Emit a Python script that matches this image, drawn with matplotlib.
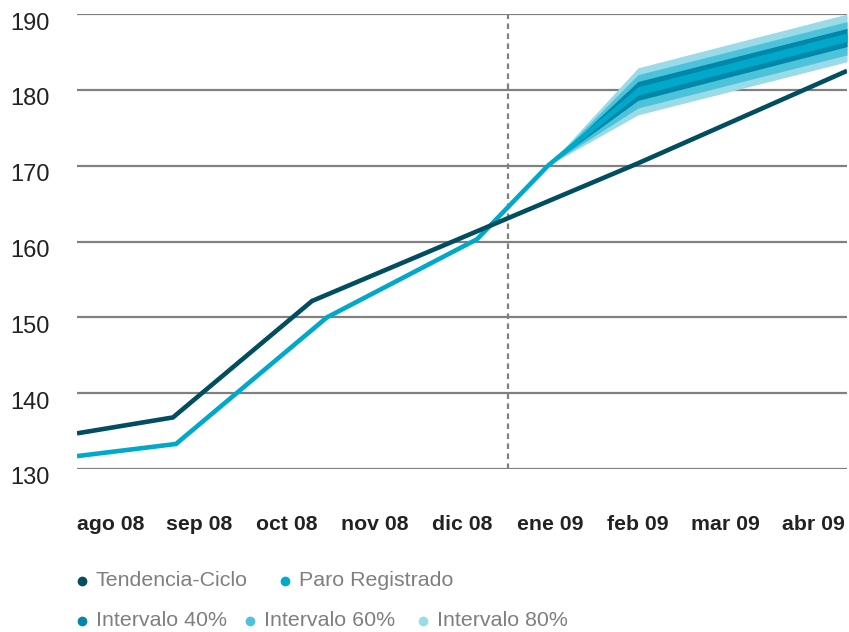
import matplotlib
matplotlib.use("Agg")
import matplotlib.pyplot as plt
from matplotlib.lines import Line2D
import matplotlib.transforms as mtransforms

# ---- data ----
months = ["ago 08", "sep 08", "oct 08", "nov 08", "dic 08", "ene 09", "feb 09", "mar 09", "abr 09"]
month_pos = [0, 1, 2, 3, 4, 5, 6, 7, 8]

tend_x = [-0.387, 0.706, 2.289, 4.977, 6.0, 8.383]
tend_y = [134.7, 136.8, 152.15, 165.3, 170.3, 182.5]

paro_x = [-0.387, 0.740, 2.460, 4.169, 4.977, 6.002, 8.383]
paro_y = [131.7, 133.3, 150.0, 160.3, 170.0, 179.8, 186.9]

band_x = [4.977, 6.002, 8.383]
i80_lo = [170.0, 176.7, 183.7]
i80_hi = [170.0, 182.9, 190.0]
i60_lo = [170.0, 177.6, 184.6]
i60_hi = [170.0, 182.0, 189.0]
i40_lo = [170.0, 178.6, 185.7]
i40_hi = [170.0, 181.1, 188.1]
core_lo = [170.0, 179.3, 186.4]
core_hi = [170.0, 180.4, 187.5]

forecast_start = 4.522
yticks = [130, 140, 150, 160, 170, 180, 190]

# ---- style ----
c_tend = "#004e60"
c_paro = "#00a9c9"
c_40 = "#0087a9"
c_60 = "#4dc3db"
c_80 = "#9bdbe8"
c_grid = "#808080"
c_label = "#222222"
c_legend = "#7f7f7f"

W, H = 849, 632
fig = plt.figure(figsize=(W / 100, H / 100), dpi=100)
ax = fig.add_axes([77 / W, (H - 469) / H, 770 / W, 455 / H])

for y in yticks:
    ax.axhline(y, color=c_grid, lw=1.6, zorder=1)
ax.axvline(forecast_start, color=c_grid, lw=1.6, ls=(0, (2.5, 2.0)), zorder=1)

ax.fill_between(band_x, i80_lo, i80_hi, color=c_80, lw=0, zorder=2)
ax.fill_between(band_x, i60_lo, i60_hi, color=c_60, lw=0, zorder=3)
ax.fill_between(band_x, i40_lo, i40_hi, color=c_40, lw=0, zorder=4)
ax.fill_between(band_x, core_lo, core_hi, color=c_paro, lw=0, zorder=5)

ax.plot(paro_x, paro_y, color=c_paro, lw=3.3, solid_joinstyle="miter",
        solid_capstyle="butt", zorder=6)
ax.plot(tend_x, tend_y, color=c_tend, lw=3.3, solid_joinstyle="miter",
        solid_capstyle="butt", zorder=7)

ax.set_xlim(-0.387, 8.383)
ax.set_ylim(130, 190)
for s in ax.spines.values():
    s.set_visible(False)
ax.set_facecolor("none")

ax.set_xticks(month_pos)
ax.set_xticklabels(months, fontsize=15.3, color=c_label, fontfamily="Liberation Sans", fontweight="bold")
ax.tick_params(axis="x", length=0, pad=33)

ax.set_yticks(yticks)
ax.set_yticklabels([str(v) for v in yticks], fontsize=17, color=c_label, fontfamily="Liberation Sans")
ax.tick_params(axis="y", length=0, pad=19.5)
offset = mtransforms.ScaledTranslation(0, -7 / 100, fig.dpi_scale_trans)
for lab in ax.get_yticklabels():
    lab.set_transform(lab.get_transform() + offset)

# ---- legend (manual) ----
legend_rows = [
    [("Tendencia-Ciclo", c_tend, 82), ("Paro Registrado", c_paro, 285)],
    [("Intervalo 40%", c_40, 82), ("Intervalo 60%", c_60, 250), ("Intervalo 80%", c_80, 423)],
]
row_y = [580, 620]
for row, yy in zip(legend_rows, row_y):
    for text, col, xx in row:
        fig.add_artist(Line2D([xx / W], [(H - yy - 1) / H], marker="o", markersize=7,
                              color=col, markeredgewidth=0, linestyle="none",
                              transform=fig.transFigure))
        fig.text((xx + 14) / W, (H - yy) / H, text, fontsize=15.4, color=c_legend,
                 fontfamily="Liberation Sans", va="center", ha="left")

fig.savefig("out.png", dpi=100)
